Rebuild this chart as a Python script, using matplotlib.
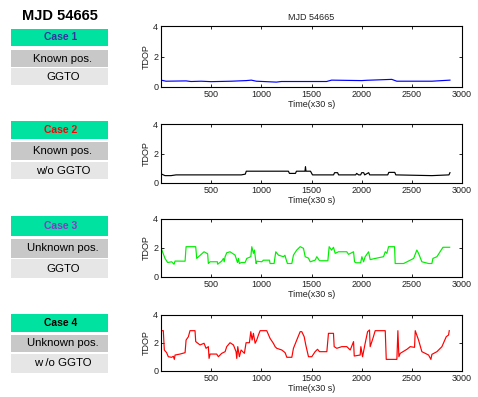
import matplotlib
matplotlib.use("Agg")
import matplotlib.pyplot as plt
from matplotlib.patches import Rectangle

plt.rcParams['font.family'] = ['Liberation Sans', 'DejaVu Sans']

title = "MJD 54665"
case_labels = ["Case 1", "Case 2", "Case 3", "Case 4"]
pos_labels = ["Known pos.", "Known pos.", "Unknown pos.", "Unknown pos."]
ggto_labels = ["GGTO", "w/o GGTO", "GGTO", "w /o GGTO"]
case_colors = ["#33339f", "#ff0000", "#8a35c8", "#000000"]
line_colors = ["#0000ff", "#000000", "#00ee00", "#ff0000"]

x1 = [0, 50, 250, 300, 400, 500, 700, 850, 900, 950, 1150, 1200, 1650, 1700, 2000, 2050, 2300, 2350, 2700, 2880]
y1 = [0.45, 0.38, 0.40, 0.36, 0.38, 0.35, 0.38, 0.42, 0.45, 0.38, 0.32, 0.36, 0.36, 0.45, 0.42, 0.44, 0.50, 0.38, 0.38, 0.45]

x2 = [0, 40, 100, 150, 800, 840, 850, 1270, 1280, 1340, 1350, 1435, 1440, 1445, 1490, 1510, 1720, 1730, 1760, 1770,
      1940, 1950, 1970, 1990, 2000, 2020, 2030, 2070, 2080, 2260, 2270, 2330, 2340, 2700, 2870, 2880]
y2 = [0.62, 0.50, 0.50, 0.55, 0.55, 0.60, 0.80, 0.80, 0.65, 0.65, 0.80, 0.80, 1.10, 0.80, 0.80, 0.55, 0.55, 0.70, 0.70, 0.55,
      0.55, 0.65, 0.55, 0.55, 0.70, 0.70, 0.55, 0.70, 0.55, 0.55, 0.72, 0.72, 0.55, 0.50, 0.55, 0.70]

x3 = [0, 40, 66, 106, 130, 140, 240, 250, 346, 356, 429, 465, 472, 489, 562, 565, 605, 622, 630, 639, 655, 688, 738, 762,
      772, 781, 800, 838, 855, 895, 905, 921, 931, 948, 954, 1004, 1021, 1081, 1087, 1127, 1144, 1170, 1220, 1235, 1247,
      1260, 1304, 1320, 1353, 1387, 1420, 1437, 1470, 1487, 1536, 1553, 1580, 1663, 1676, 1700, 1719, 1736, 1769, 1852,
      1869, 1919, 1929, 1942, 1990, 2002, 2019, 2035, 2069, 2085, 2135, 2218, 2235, 2251, 2268, 2328, 2334, 2418, 2518,
      2550, 2567, 2600, 2667, 2700, 2710, 2750, 2810, 2877]
y3 = [2.02, 1.28, 1.00, 1.05, 0.88, 1.10, 1.09, 2.09, 2.09, 1.28, 1.74, 1.60, 0.93, 1.05, 1.05, 0.88, 1.10, 1.28, 1.05, 1.40, 1.67, 1.74, 1.51, 1.00,
      1.28, 0.93, 1.00, 1.00, 1.28, 1.40, 2.09, 1.63, 1.86, 0.93, 1.09, 1.05, 1.16, 1.16, 0.93, 0.93, 1.74, 1.51, 1.40, 1.50, 1.21,
      0.93, 0.93, 1.51, 1.86, 2.09, 1.98, 1.40, 1.30, 1.05, 1.16, 1.40, 1.12, 1.12, 2.09, 1.85, 2.05, 1.63, 1.74, 1.74,
      1.56, 1.74, 1.05, 0.98, 0.98, 1.40, 1.05, 1.40, 1.74, 1.20, 1.28, 1.40, 1.74, 1.63, 2.09, 2.09, 0.93, 0.93, 1.28,
      1.86, 1.63, 1.05, 0.93, 0.93, 1.28, 1.40, 2.05, 2.05]

x4 = [0, 23, 33, 56, 73, 106, 123, 133, 140, 190, 240, 250, 273, 289, 339, 346, 389, 429, 449, 472, 479, 489, 555, 572,
      605, 639, 655, 688, 722, 748, 755, 765, 781, 798, 831, 848, 881, 895, 908, 921, 938, 954, 971, 988, 1054, 1087, 1120,
      1137, 1154, 1204, 1237, 1254, 1304, 1320, 1353, 1387, 1403, 1427, 1443, 1470, 1503, 1536, 1560, 1580, 1653, 1669,
      1719, 1726, 1752, 1802, 1852, 1886, 1919, 1926, 1985, 1992, 2009, 2035, 2059, 2078, 2085, 2112, 2135, 2235, 2245,
      2351, 2361, 2371, 2384, 2451, 2484, 2527, 2534, 2567, 2600, 2634, 2667, 2690, 2700, 2750, 2800, 2843, 2866, 2873]
y4 = [2.88, 2.88, 1.50, 1.31, 1.02, 0.98, 1.05, 0.83, 1.14, 1.21, 1.31, 2.21, 2.45, 2.88, 2.88, 2.10, 1.86, 1.98, 1.62, 1.74, 0.90, 1.21, 1.21, 1.02,
      1.26, 1.38, 1.74, 2.02, 1.86, 1.38, 0.90, 1.74, 1.02, 1.50, 1.26, 2.02, 2.02, 2.81, 2.21, 2.69, 1.98, 2.21, 2.57, 2.88, 2.88, 2.33, 1.98,
      1.74, 1.62, 1.50, 1.31, 0.98, 0.98, 1.62, 2.21, 2.81, 2.81, 2.45, 1.86, 1.02, 1.02, 1.38, 1.55, 1.38, 1.38, 2.69,
      2.69, 1.74, 1.62, 1.74, 1.74, 1.50, 2.10, 1.07, 1.14, 1.74, 1.02, 1.98, 2.81, 2.93, 1.74, 2.33, 2.88, 2.88, 0.83,
      0.83, 2.88, 1.02, 1.26, 1.55, 1.74, 1.69, 2.88, 2.21, 1.38, 1.26, 1.14, 0.83, 1.19, 1.38, 1.74, 2.45, 2.57, 2.88]

xs = [x1, x2, x3, x4]
ys = [y1, y2, y3, y4]
xticks = [500, 1000, 1500, 2000, 2500, 3000]
yticks = [0, 2, 4]

W, H = 478, 397
fig = plt.figure(figsize=(W / 100, H / 100), dpi=100)

# axes pixel boxes (top, bottom)
ax_boxes = [(26, 87), (124, 183), (219, 277), (315, 371)]
ax_left, ax_right = 161, 462

# left boxes pixel y ranges: green, gray, light
box_rows = [
    [(29, 46), (50, 67), (68, 85)],
    [(121, 139), (142, 160), (162, 179)],
    [(216, 236), (239, 258), (259, 278)],
    [(314, 332), (335, 352), (354, 373)],
]
box_colors = ["#00e3a0", "#c8c8c8", "#e6e6e6"]
bx0, bx1 = 11, 108

fig.text(60 / W, 1 - 16 / H, title, ha='center', va='center', fontsize=10.5, fontweight='bold')

for i in range(4):
    top, bot = ax_boxes[i]
    ax = fig.add_axes([ax_left / W, 1 - bot / H, (ax_right - ax_left) / W, (bot - top) / H])
    ax.plot(xs[i], ys[i], color=line_colors[i], lw=0.85)
    ax.set_xlim(0, 3000)
    ax.set_ylim(0, 4)
    ax.set_xticks(xticks)
    ax.set_yticks(yticks)
    ax.tick_params(direction='in', length=2, width=0.6, labelsize=6.5, top=True, right=True, pad=2,
                   labelcolor='#222222')
    for s in ax.spines.values():
        s.set_linewidth(0.8)
    ax.set_ylabel("TDOP", fontsize=6.5, labelpad=2, color='#222222')
    ax.set_xlabel("Time(x30 s)", fontsize=6.5, labelpad=1, color='#222222')
    if i == 0:
        ax.set_title(title, fontsize=6.5, pad=4, color='#222222')

    texts = [case_labels[i], pos_labels[i], ggto_labels[i]]
    for j, (t0, t1) in enumerate(box_rows[i]):
        fig.patches.append(Rectangle((bx0 / W, 1 - t1 / H), (bx1 - bx0) / W, (t1 - t0) / H,
                                     transform=fig.transFigure, facecolor=box_colors[j],
                                     edgecolor='none', zorder=0))
        cx = 61 if j == 0 else 63
        if j == 0:
            fig.text(cx / W, 1 - (t0 + t1) / 2 / H, texts[j], ha='center', va='center',
                     fontsize=7.5, fontweight='bold', color=case_colors[i])
        else:
            fig.text(cx / W, 1 - (t0 + t1) / 2 / H, texts[j], ha='center', va='center',
                     fontsize=8.2, color='black')

fig.savefig("out.png", dpi=100)
